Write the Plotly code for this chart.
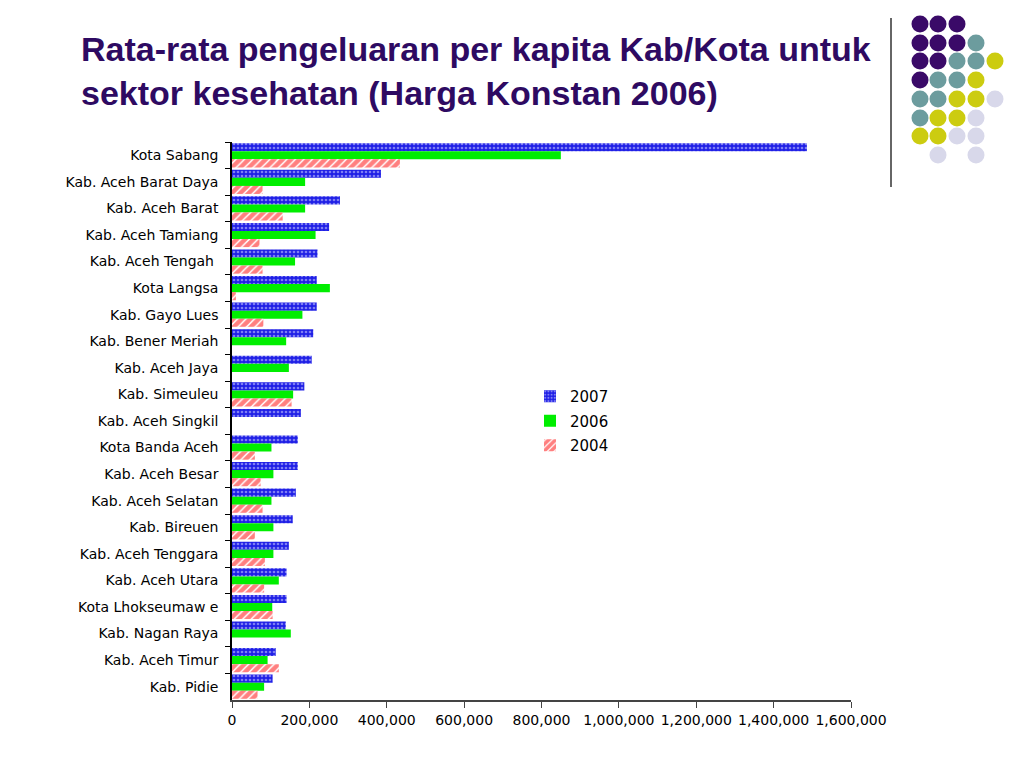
import plotly.graph_objects as go

categories = ["Kota Sabang", "Kab. Aceh Barat Daya", "Kab. Aceh Barat", "Kab. Aceh Tamiang",
              "Kab. Aceh Tengah ", "Kota Langsa", "Kab. Gayo Lues", "Kab. Bener Meriah",
              "Kab. Aceh Jaya", "Kab. Simeuleu", "Kab. Aceh Singkil", "Kota Banda Aceh",
              "Kab. Aceh Besar", "Kab. Aceh Selatan", "Kab. Bireuen", "Kab. Aceh Tenggara",
              "Kab. Aceh Utara", "Kota Lhokseumaw e", "Kab. Nagan Raya", "Kab. Aceh Timur",
              "Kab. Pidie"]

v2007 = [1486000, 385000, 279000, 251000, 221000, 219000, 219000, 210000, 206000, 187000,
         178000, 170000, 170000, 165000, 157000, 147000, 141000, 141000, 139000, 113000, 105000]
v2006 = [850000, 189000, 189000, 216000, 163000, 253000, 182000, 140000, 147000, 158000,
         None, 102000, 107000, 102000, 107000, 107000, 121000, 104000, 152000, 92000, 83000]
v2004 = [434000, 79000, 131000, 71000, 79000, 10000, 81000, None, None, 154000,
         None, 59000, 74000, 79000, 59000, 85000, 83000, 105000, None, 121000, 66000]

x_ticks = [0, 200000, 400000, 600000, 800000, 1000000, 1200000, 1400000, 1600000]

fig = go.Figure()
fig.add_trace(go.Bar(
    y=categories, x=v2007, name="2007", orientation="h", legendgroup="a",
    marker=dict(color="#1f1fe6", line=dict(width=0),
                pattern=dict(shape=".", fgcolor="#e0e0ff", bgcolor="#1f1fe6", size=4, solidity=0.35)),
))
fig.add_trace(go.Bar(
    y=categories, x=v2006, name="2006", orientation="h", legendgroup="b",
    marker=dict(color="#00ee00", line=dict(width=0)),
))
fig.add_trace(go.Bar(
    y=categories, x=v2004, name="2004", orientation="h", legendgroup="c",
    marker=dict(color="white", line=dict(width=0),
                pattern=dict(shape="/", fgcolor="#ff0000", bgcolor="white", size=6, solidity=0.75)),
))

# the page body has an 8px margin, so figure coordinates = screen - 8
OFF = 8
FW, FH = 1024 - OFF, 768 - OFF
L, R, T, B = 232 - OFF, 851 - OFF, 142 - OFF, 700 - OFF
W = R - L
H = B - T

def px(x):
    return (x - OFF - L) / W

def py(y):
    return (B - (y - OFF)) / H

shapes = []
purple, teal, yellow, lav = "#3a0a68", "#6c9c9e", "#cccc10", "#d8d8ea"
cols = [920, 938, 957, 976, 995]
rows = [24, 43, 61, 80, 99, 118, 136, 155]
grid = [
    [purple, purple, purple, None, None],
    [purple, purple, purple, teal, None],
    [purple, purple, teal, teal, yellow],
    [purple, teal, teal, yellow, None],
    [teal, teal, yellow, yellow, lav],
    [teal, yellow, yellow, lav, None],
    [yellow, yellow, lav, lav, None],
    [None, lav, None, lav, None],
]
r = 8.5
for ri, row in enumerate(grid):
    for ci, c in enumerate(row):
        if c is None:
            continue
        cx, cy = cols[ci], rows[ri]
        shapes.append(dict(type="circle", xref="paper", yref="paper",
                           x0=px(cx - r), x1=px(cx + r), y0=py(cy + r), y1=py(cy - r),
                           fillcolor=c, line=dict(width=0)))
shapes.append(dict(type="line", xref="paper", yref="paper",
                   x0=px(891), x1=px(891), y0=py(18), y1=py(187),
                   line=dict(color="#333333", width=1.5)))

fig.update_layout(
    width=FW, height=FH,
    margin=dict(l=L, r=FW - R, t=T, b=FH - B),
    paper_bgcolor="white", plot_bgcolor="white",
    barmode="group", bargap=0.09, bargroupgap=0,
    font=dict(family="DejaVu Sans, Liberation Sans, sans-serif", color="black", size=14),
    showlegend=True,
    legend=dict(x=px(530), y=py(380), xanchor="left", yanchor="top",
                font=dict(size=15), traceorder="grouped", tracegroupgap=2,
                bgcolor="rgba(0,0,0,0)"),
    shapes=shapes,
    annotations=[dict(
        text="<b>Rata-rata pengeluaran per kapita Kab/Kota untuk<br>sektor kesehatan (Harga Konstan 2006)</b>",
        xref="paper", yref="paper", x=px(79), y=py(28), xanchor="left", yanchor="top",
        align="left", showarrow=False,
        font=dict(family="Liberation Sans, Arial, sans-serif", size=34, color="#2e0a62"))],
)
fig.update_yaxes(
    autorange="reversed", type="category",
    showline=True, linecolor="black", linewidth=1.5,
    ticks="outside", tickson="boundaries", ticklen=5, tickcolor="black",
    showgrid=False, ticklabelstandoff=9, tickfont=dict(size=14),
)
fig.update_xaxes(
    range=[0, 1600000], tickvals=x_ticks, tickformat=",",
    showline=True, linecolor="#444444", linewidth=1.5,
    ticks="outside", ticklen=6, tickcolor="#444444",
    showgrid=False, zeroline=False, tickfont=dict(size=14),
)

fig.write_html("out.html")
